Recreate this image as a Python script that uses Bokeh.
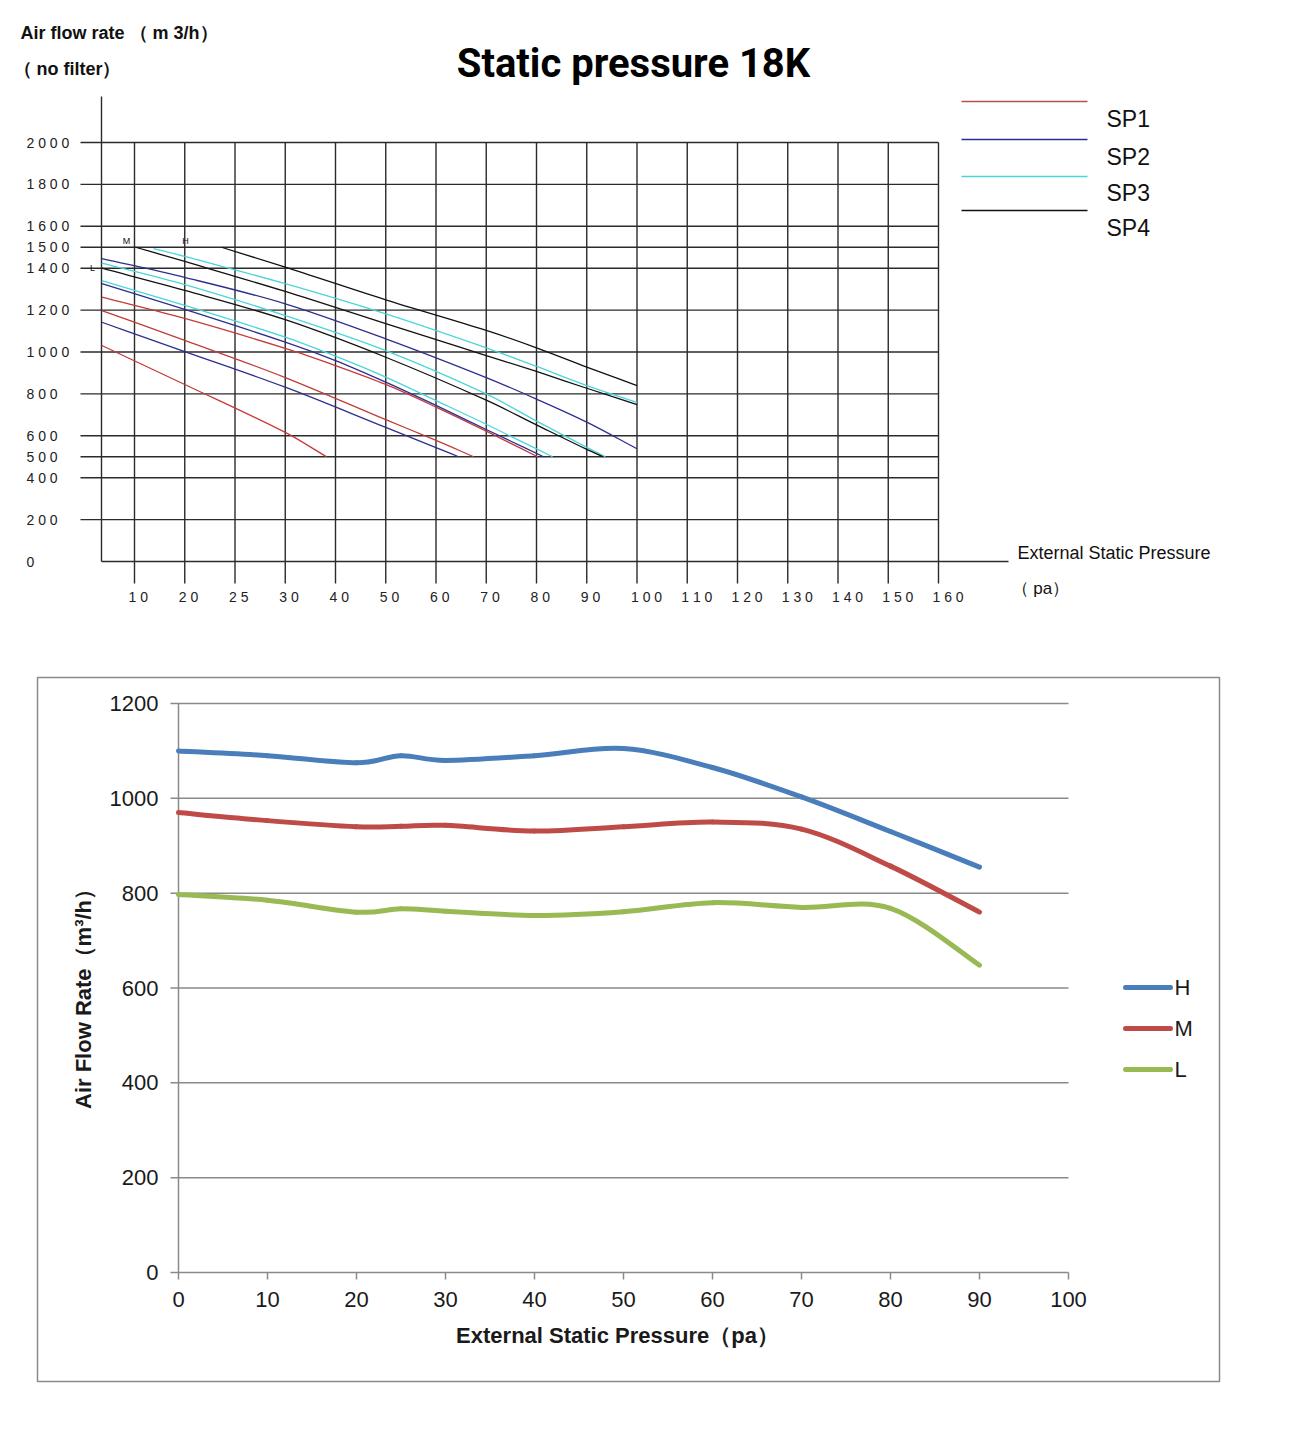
from bokeh.core.properties import value
from bokeh.embed import file_html
from bokeh.layouts import column
from bokeh.models import Range1d
from bokeh.plotting import figure
from bokeh.resources import INLINE

# ---------------- top chart data (x = grid column: 1 -> "10" ... 17 -> "160")
x_tick_labels = ['10', '20', '25', '30', '40', '50', '60', '70', '80', '90',
                 '100', '110', '120', '130', '140', '150', '160']
y_ticks = [0, 200, 400, 500, 600, 800, 1000, 1200, 1400, 1500, 1600, 1800, 2000]
sp_names = ['SP1', 'SP2', 'SP3', 'SP4']

sp1_l_x = [0.35, 2, 4, 4.82]
sp1_l_y = [1031, 845, 616, 500]
sp1_m_x = [0.35, 2, 4, 6, 7, 7.75]
sp1_m_y = [1198, 1055, 878, 677, 578, 500]
sp1_h_x = [0.35, 2, 4, 5, 6, 7, 8, 9.02]
sp1_h_y = [1262, 1160, 1017, 935, 845, 737, 622, 500]

sp2_l_x = [0.35, 2, 4, 6, 7, 7.45]
sp2_l_y = [1142, 1002, 832, 640, 544, 500]
sp2_m_x = [0.35, 2, 4, 5, 6, 7, 8, 9.14]
sp2_m_y = [1326, 1203, 1047, 959, 856, 745, 630, 500]
sp2_h_x = [0.35, 2, 4, 6, 8, 9, 10, 11]
sp2_h_y = [1446, 1356, 1230, 1063, 878, 775, 665, 538]

sp3_l_x = [0.35, 2, 4, 5, 6, 7, 8, 9.32]
sp3_l_y = [1341, 1222, 1071, 980, 880, 768, 655, 500]
sp3_m_x = [0.35, 2, 4, 6, 8, 9, 10, 10.37]
sp3_m_y = [1424, 1322, 1174, 1007, 800, 670, 545, 500]
sp3_h_x = [1.38, 2, 4, 6, 8, 9, 10, 11]
sp3_h_y = [1494, 1456, 1326, 1182, 1020, 931, 840, 760]

sp4_l_x = [0.35, 2, 4, 6, 8, 9, 10, 10.33]
sp4_l_y = [1400, 1294, 1154, 975, 770, 652, 535, 500]
sp4_m_x = [1.02, 2, 4, 6, 8, 9, 10, 11]
sp4_m_y = [1500, 1432, 1289, 1135, 983, 907, 827, 749]
sp4_h_x = [2.73, 4, 6, 8, 9, 10, 11]
sp4_h_y = [1500, 1405, 1249, 1103, 1020, 928, 840]

# ---------------- bottom chart data
pressure = [0, 10, 20, 25, 30, 40, 50, 60, 70, 80, 90]
flow_h = [1100, 1090, 1075, 1090, 1080, 1090, 1105, 1065, 1003, 930, 855]
flow_m = [970, 953, 940, 941, 943, 931, 940, 950, 935, 857, 760]
flow_l = [797, 785, 760, 767, 762, 753, 761, 780, 770, 768, 648]
bottom_x_ticks = [0, 10, 20, 30, 40, 50, 60, 70, 80, 90, 100]
bottom_y_ticks = [0, 200, 400, 600, 800, 1000, 1200]

ARIAL = value('Liberation Sans')
W = 1290


def smooth(xs, ys):
    # bezier segments through the points, like a smoothed spreadsheet line
    n = len(xs)
    seg = {k: [] for k in ('x0', 'y0', 'x1', 'y1', 'cx0', 'cy0', 'cx1', 'cy1')}
    for i in range(n - 1):
        a, b = max(i - 1, 0), min(i + 2, n - 1)
        seg['x0'].append(xs[i])
        seg['y0'].append(ys[i])
        seg['x1'].append(xs[i + 1])
        seg['y1'].append(ys[i + 1])
        seg['cx0'].append(xs[i] + (xs[i + 1] - xs[a]) / 6)
        seg['cy0'].append(ys[i] + (ys[i + 1] - ys[a]) / 6)
        seg['cx1'].append(xs[i + 1] - (xs[b] - xs[i]) / 6)
        seg['cy1'].append(ys[i + 1] - (ys[b] - ys[i]) / 6)
    return seg


def smooth_fx(xs, ys):
    # cubic hermite in x (no wobble with uneven point spacing)
    n = len(xs)

    def slope(i):
        a, b = max(i - 1, 0), min(i + 1, n - 1)
        return (ys[b] - ys[a]) / (xs[b] - xs[a])

    seg = {k: [] for k in ('x0', 'y0', 'x1', 'y1', 'cx0', 'cy0', 'cx1', 'cy1')}
    for i in range(n - 1):
        h = (xs[i + 1] - xs[i]) / 3
        seg['x0'].append(xs[i])
        seg['y0'].append(ys[i])
        seg['x1'].append(xs[i + 1])
        seg['y1'].append(ys[i + 1])
        seg['cx0'].append(xs[i] + h)
        seg['cy0'].append(ys[i] + slope(i) * h)
        seg['cx1'].append(xs[i + 1] - h)
        seg['cy1'].append(ys[i + 1] - slope(i + 1) * h)
    return seg


# ================= top chart =================
TOP_H = 648
TX0, TXU = 83.75, 50.25   # px of column 0, px per column
TY0, TYU = 561.0, 0.2095  # px of flow 0, px per m3/h


def tx(px):  # page px -> top chart x
    return (px - TX0) / TXU


def ty(py):  # page px -> top chart y
    return (TY0 - py) / TYU


top = figure(width=W, height=TOP_H, output_backend='svg', toolbar_location=None,
             x_range=Range1d(-TX0 / TXU, (W - TX0) / TXU),
             y_range=Range1d((TY0 - TOP_H) / TYU, TY0 / TYU),
             x_axis_location=None, y_axis_location=None, min_border=0)
top.outline_line_color = None
top.grid.grid_line_color = None
top.background_fill_color = 'white'
top.border_fill_color = 'white'

cols = list(range(1, len(x_tick_labels) + 1))
grid_top = y_ticks[-1]
axis_x = tx(101)

# horizontal grid (0 is the axis)
hy = [v for v in y_ticks if v > 0]
top.segment(x0=[tx(80)] * len(hy), y0=hy, x1=[cols[-1]] * len(hy), y1=hy,
            line_color='#2b2b2b', line_width=1.4)
# vertical grid
top.segment(x0=cols, y0=[ty(583)] * len(cols), x1=cols, y1=[grid_top] * len(cols),
            line_color='#2b2b2b', line_width=1.4)
# axes
top.segment(x0=[axis_x], y0=[0], x1=[axis_x], y1=[ty(96)], line_color='#2b2b2b', line_width=1.4)
top.segment(x0=[axis_x], y0=[0], x1=[tx(1008)], y1=[0], line_color='#2b2b2b', line_width=1.4)


def spaced(s):
    return ' '.join(s)


top.text(x=[tx(26)] * len(y_ticks), y=y_ticks, text=[spaced(str(v)) for v in y_ticks],
         text_font=ARIAL, text_font_size='14px', text_baseline='middle',
         text_align='left', text_color='#222222')
top.text(x=[c - 0.12 for c in cols], y=[ty(596)] * len(cols),
         text=[spaced(t) for t in x_tick_labels],
         text_font=ARIAL, text_font_size='14px', text_baseline='middle',
         text_align='left', text_color='#222222')

red, blue, cyan, black = '#c43a3a', '#2e2e8e', '#4ad6d6', '#111111'
curves = [
    (sp1_l_x, sp1_l_y, red), (sp1_m_x, sp1_m_y, red), (sp1_h_x, sp1_h_y, red),
    (sp2_l_x, sp2_l_y, blue), (sp2_m_x, sp2_m_y, blue), (sp2_h_x, sp2_h_y, blue),
    (sp3_l_x, sp3_l_y, cyan), (sp3_m_x, sp3_m_y, cyan), (sp3_h_x, sp3_h_y, cyan),
    (sp4_l_x, sp4_l_y, black), (sp4_m_x, sp4_m_y, black), (sp4_h_x, sp4_h_y, black),
]
for xs, ys, c in curves:
    top.bezier(line_color=c, line_width=1.3, **smooth_fx(xs, ys))

# speed markers
top.text(x=[tx(126), tx(185), tx(92)], y=[ty(240), ty(240), ty(267)], text=['M', 'H', 'L'],
         text_font=ARIAL, text_font_size='9px', text_baseline='middle',
         text_align='center', text_color='#111111')

# titles
top.text(x=[tx(20)], y=[ty(32)], text=['Air flow rate （ m 3/h）'], text_font=ARIAL,
         text_font_size='18px', text_font_style='bold', text_baseline='middle',
         text_color='#111111')
top.text(x=[tx(13)], y=[ty(68)], text=['（ no filter）'], text_font=ARIAL,
         text_font_size='18px', text_font_style='bold', text_baseline='middle',
         text_color='#111111')
top.text(x=[tx(633)], y=[ty(63)], text=['Static pressure 18K'],
         text_font=value('Roboto'), text_font_size='40px',
         text_font_style='bold', text_baseline='middle', text_align='center',
         text_color='#000000')
top.text(x=[tx(1017)], y=[ty(552)], text=['External Static Pressure'], text_font=ARIAL,
         text_font_size='18px', text_baseline='middle', text_color='#111111')
top.text(x=[tx(1011)], y=[ty(588)], text=['（ pa）'], text_font=ARIAL,
         text_font_size='17px', text_baseline='middle', text_color='#111111')

# legend
leg_y = [ty(101), ty(139), ty(176), ty(210)]
top.segment(x0=[tx(961)] * 4, y0=leg_y, x1=[tx(1087)] * 4, y1=leg_y,
            line_color=['#b85050', blue, cyan, black], line_width=1.3)
top.text(x=[tx(1106)] * 4, y=[ty(118), ty(156), ty(192), ty(227)], text=sp_names,
         text_font=ARIAL, text_font_size='23px', text_baseline='middle',
         text_color='#111111')

# ================= bottom chart =================
BOT_TOP = 648
BOT_H = 780
BX0, BXU = 178.0, 8.9
BY0, BYU = 1272.0, 569 / 1200


def bx(px):
    return (px - BX0) / BXU


def by(py):
    return (BY0 - py) / BYU


bot = figure(width=W, height=BOT_H, output_backend='svg', toolbar_location=None,
             x_range=Range1d(-BX0 / BXU, (W - BX0) / BXU),
             y_range=Range1d(by(BOT_TOP + BOT_H), by(BOT_TOP)),
             x_axis_location=None, y_axis_location=None, min_border=0)
bot.outline_line_color = None
bot.grid.grid_line_color = None
bot.background_fill_color = 'white'
bot.border_fill_color = 'white'

gray = '#8a8a8a'
bot.quad(left=[bx(37)], right=[bx(1219)], top=[by(677)], bottom=[by(1381)],
         fill_color=None, line_color=gray, line_width=1.5)
nyt = len(bottom_y_ticks)
bot.segment(x0=[bx(170)] * nyt, y0=bottom_y_ticks, x1=[bottom_x_ticks[-1]] * nyt,
            y1=bottom_y_ticks, line_color=gray, line_width=1.5)
bot.segment(x0=[0], y0=[0], x1=[0], y1=[bottom_y_ticks[-1]], line_color=gray, line_width=1.5)
nxt = len(bottom_x_ticks)
bot.segment(x0=bottom_x_ticks, y0=[0] * nxt, x1=bottom_x_ticks, y1=[by(1279)] * nxt,
            line_color=gray, line_width=1.5)

bot.text(x=[bx(158)] * nyt, y=bottom_y_ticks, text=[str(v) for v in bottom_y_ticks],
         text_font=ARIAL, text_font_size='22px', text_baseline='middle',
         text_align='right', text_color='#1a1a1a')
bot.text(x=bottom_x_ticks, y=[by(1299)] * nxt, text=[str(v) for v in bottom_x_ticks],
         text_font=ARIAL, text_font_size='22px', text_baseline='middle',
         text_align='center', text_color='#1a1a1a')
bot.text(x=[bx(617)], y=[by(1335)], text=['External Static Pressure（pa）'],
         text_font=ARIAL, text_font_size='22px', text_font_style='bold',
         text_baseline='middle', text_align='center', text_color='#1a1a1a')
bot.text(x=[bx(83)], y=[by(993)], text=['Air Flow Rate（m³/h）'], angle=1.5708,
         text_font=ARIAL, text_font_size='22px', text_font_style='bold',
         text_baseline='middle', text_align='center', text_color='#1a1a1a')

series = [('H', flow_h, '#4a7ebb'), ('M', flow_m, '#be4b48'), ('L', flow_l, '#98b954')]
leg_rows = [987, 1028, 1069]
for (name, ys, c), row in zip(series, leg_rows):
    bot.bezier(line_color=c, line_width=5, line_cap='round', **smooth(pressure, ys))
    bot.segment(x0=[bx(1125)], y0=[by(row)], x1=[bx(1170)], y1=[by(row)],
                line_color=c, line_width=5, line_cap='round')
    bot.text(x=[bx(1174)], y=[by(row)], text=[name], text_font=ARIAL,
             text_font_size='22px', text_baseline='middle', text_color='#1a1a1a')

layout = column(top, bot)
open('out.html', 'w').write(file_html(layout, INLINE))
